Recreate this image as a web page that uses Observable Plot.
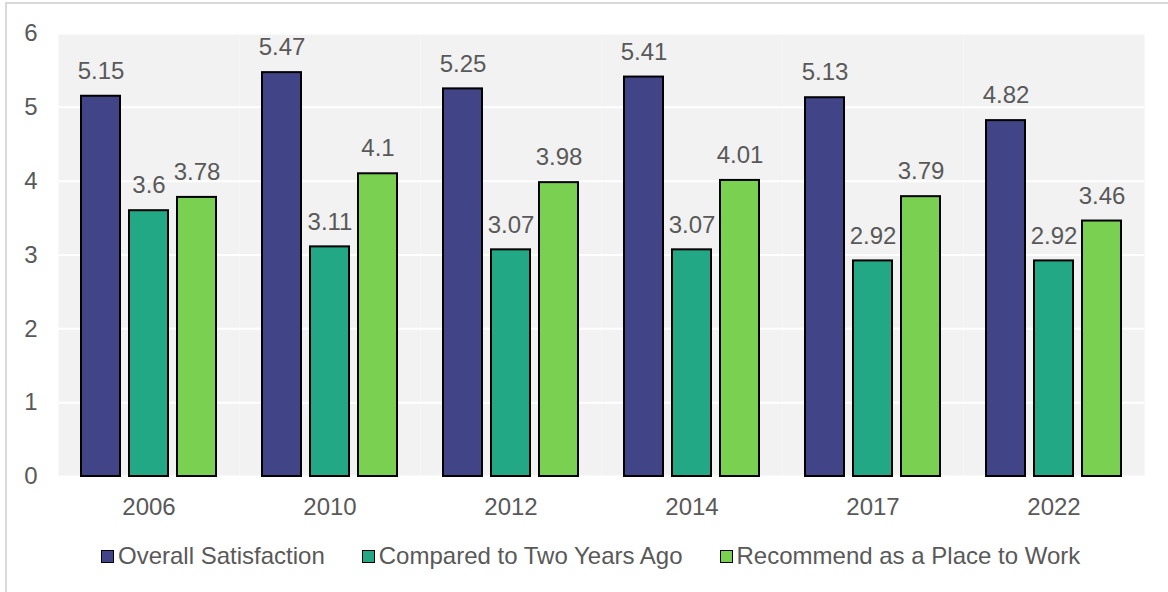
<!DOCTYPE html>
<html>
<head>
<meta charset="utf-8">
<script src="https://cdn.jsdelivr.net/npm/d3@7"></script>
<script src="https://cdn.jsdelivr.net/npm/@observablehq/plot@0.6"></script>
<style>
  html, body { margin: 0; padding: 0; background: #fff; }
  body { width: 1168px; height: 592px; overflow: hidden; position: relative;
         font-family: "Liberation Sans", Arial, sans-serif; color: #595959; }
  #frame { position: absolute; left: 5px; top: 2px; width: 1300px; height: 700px;
           border-top: 2px solid #d9d9d9; border-left: 2px solid #d9d9d9; }
  #chart { position: absolute; left: 0; top: 0; }
  #legend { position: absolute; left: 101px; top: 538px; height: 36px; display: flex;
            align-items: center; font-size: 24px; white-space: nowrap; }
  .item { display: flex; align-items: center; margin-right: 37px; }
  .sw { width: 11px; height: 11px; border: 1.5px solid #000; margin-right: 4px; }
</style>
</head>
<body>
<div id="frame"></div>
<div id="chart"></div>
<div id="legend"></div>
<script>
const years = ["2006", "2010", "2012", "2014", "2017", "2022"];
const seriesNames = ["Overall Satisfaction", "Compared to Two Years Ago", "Recommend as a Place to Work"];
const overall = [5.15, 5.47, 5.25, 5.41, 5.13, 4.82];
const compared = [3.6, 3.11, 3.07, 3.07, 2.92, 2.92];
const recommend = [3.78, 4.1, 3.98, 4.01, 3.79, 3.46];
const colors = ["#414487", "#22a884", "#7ad151"];
const yTicks = [0, 1, 2, 3, 4, 5, 6];

const seriesValues = [overall, compared, recommend];
const data = [];
years.forEach((y, i) => {
  seriesNames.forEach((s, j) => data.push({year: y, series: s, value: seriesValues[j][i]}));
});

const chart = Plot.plot({
  width: 1168,
  height: 520,
  marginLeft: 57,
  marginRight: 24,
  marginTop: 33,
  marginBottom: 44,
  style: {fontSize: "24px", fontFamily: "'Liberation Sans', Arial, sans-serif", color: "#595959", background: "transparent"},
  fx: {domain: years, padding: 0, label: null, tickSize: 0, tickPadding: 21},
  x: {domain: seriesNames, axis: null, paddingInner: 0.196, paddingOuter: 0.466},
  y: {domain: [0, 6], ticks: yTicks, tickFormat: d => String(d), label: null, tickSize: 0, tickPadding: 21},
  color: {domain: seriesNames, range: colors},
  marks: [
    Plot.frame({fill: "#f2f2f2", stroke: null}),
    Plot.gridY(yTicks, {stroke: "#ffffff", strokeOpacity: 1, strokeWidth: 2}),
    Plot.barY(data, {fx: "year", x: "series", y: "value", fill: "series", stroke: "#000", strokeWidth: 2}),
    Plot.text(data, {fx: "year", x: "series", y: "value", text: d => String(d.value),
      dy: -25, lineAnchor: "middle", fill: "#595959", fontSize: 24})
  ]
});
document.getElementById("chart").appendChild(chart);

const legend = document.getElementById("legend");
seriesNames.forEach((s, i) => {
  const item = document.createElement("div");
  item.className = "item";
  const sw = document.createElement("div");
  sw.className = "sw";
  sw.style.background = colors[i];
  const t = document.createElement("span");
  t.textContent = s;
  item.appendChild(sw);
  item.appendChild(t);
  legend.appendChild(item);
});
</script>
</body>
</html>
